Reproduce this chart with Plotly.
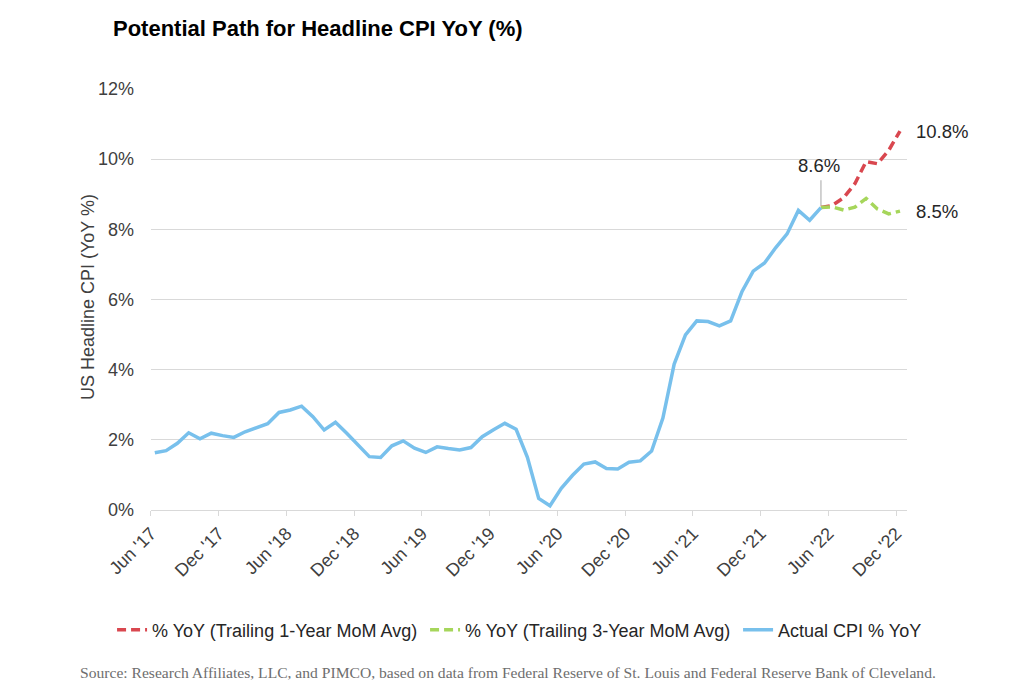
import plotly.graph_objects as go

# ---------------- data ----------------
tick_labels = ["Jun '17", "Dec '17", "Jun '18", "Dec '18", "Jun '19", "Dec '19",
               "Jun '20", "Dec '20", "Jun '21", "Dec '21", "Jun '22", "Dec '22"]

# Actual CPI % YoY, monthly Jun 2017 .. May 2022
actual_cpi = [1.63, 1.69, 1.90, 2.20, 2.03, 2.19, 2.12,
              2.07, 2.23, 2.35, 2.46, 2.78, 2.85, 2.96, 2.66, 2.28, 2.50, 2.19, 1.85,
              1.52, 1.50, 1.83, 1.97, 1.76, 1.64, 1.80, 1.75, 1.71, 1.78, 2.09, 2.29,
              2.47, 2.30, 1.50, 0.33, 0.12, 0.62, 0.99, 1.31, 1.37, 1.18, 1.17, 1.36,
              1.40, 1.68, 2.62, 4.16, 4.99, 5.39, 5.37, 5.25, 5.39, 6.22, 6.81, 7.04,
              7.48, 7.87, 8.54, 8.26, 8.62]

# Projections, May 2022 .. Dec 2022
proj_1yr = [8.62, 8.68, 8.90, 9.30, 9.93, 9.87, 10.25, 10.80]
proj_3yr = [8.62, 8.64, 8.55, 8.63, 8.88, 8.58, 8.44, 8.52]

names = ["% YoY (Trailing 1-Year MoM Avg)", "% YoY (Trailing 3-Year MoM Avg)", "Actual CPI % YoY"]
colors = ["#D9474F", "#A6D65B", "#78C0EC"]

x_actual = list(range(len(actual_cpi)))
start_proj = len(actual_cpi) - 1
x_proj = list(range(start_proj, start_proj + len(proj_1yr)))

TICK_OFFSET = -0.34
tick_pos = [i * 6 + TICK_OFFSET for i in range(len(tick_labels))]

FONT = "Liberation Sans, Arial, sans-serif"

fig = go.Figure()
fig.add_trace(go.Scatter(x=x_proj, y=proj_1yr, mode="lines", name=names[0], legendwidth=268,
                         line=dict(color=colors[0], width=3.5, dash="9px,5px")))
fig.add_trace(go.Scatter(x=x_proj, y=proj_3yr, mode="lines", name=names[1], legendwidth=268,
                         line=dict(color=colors[1], width=3.5, dash="9px,5px")))
fig.add_trace(go.Scatter(x=x_actual, y=actual_cpi, mode="lines", name=names[2],
                         line=dict(color=colors[2], width=3.5)))

# leader line for 8.6% label
fig.add_shape(type="line", x0=start_proj, x1=start_proj, y0=actual_cpi[-1] + 0.05, y1=9.4,
              line=dict(color="#A6A6A6", width=1), layer="below")

annos = [
    dict(x=start_proj - 0.2, y=9.81, text=f"{actual_cpi[-1]:.1f}%", showarrow=False,
         xanchor="center", yanchor="middle"),
    dict(x=x_proj[-1], y=proj_1yr[-1], text=f"{proj_1yr[-1]:.1f}%", showarrow=False,
         xanchor="left", yanchor="middle", xshift=14),
    dict(x=x_proj[-1], y=proj_3yr[-1], text=f"{proj_3yr[-1]:.1f}%", showarrow=False,
         xanchor="left", yanchor="middle", xshift=14),
]
for a in annos:
    a["font"] = dict(family=FONT, size=18.5, color="#262626")
    fig.add_annotation(**a)

# y-axis title
fig.add_annotation(xref="paper", yref="paper", x=-0.084, y=0.507, text="US Headline CPI (YoY %)",
                   textangle=-90, showarrow=False, xanchor="center", yanchor="middle",
                   font=dict(family=FONT, size=18, color="#404040"))

# source note
fig.add_annotation(xref="paper", yref="paper", x=-0.097, y=-0.385,
                   text="Source: Research Affiliates, LLC, and PIMCO, based on data from Federal Reserve of St. Louis and Federal Reserve Bank of Cleveland.",
                   showarrow=False, xanchor="left", yanchor="middle",
                   font=dict(family="Liberation Serif, Times New Roman, serif", size=15.6, color="#6E6E6E"))

fig.update_layout(
    width=1022, height=676,
    margin=dict(l=143, r=123, t=81, b=174),
    paper_bgcolor="white", plot_bgcolor="white",
    title=dict(text="<b>Potential Path for Headline CPI YoY (%)</b>", x=105 / 1022, xanchor="left",
               xref="container", y=1 - 20 / 676, yanchor="middle", yref="container",
               font=dict(family=FONT, size=22, color="#000000")),
    showlegend=True,
    legend=dict(orientation="h", x=-0.0515, xanchor="left", y=-0.285, yanchor="middle",
                font=dict(family=FONT, size=18, color="#262626"), traceorder="normal",
                bgcolor="rgba(0,0,0,0)"),
    xaxis=dict(range=[-0.337, 66.62], tickmode="array", tickvals=tick_pos, ticktext=tick_labels,
               tickangle=-45, showgrid=False, zeroline=False, showline=True, linecolor="#D9D9D9",
               linewidth=1, ticks="outside", ticklen=5, tickcolor="#D9D9D9",
               tickfont=dict(family=FONT, size=18, color="#404040")),
    yaxis=dict(range=[0, 12], tickmode="array", tickvals=[0, 2, 4, 6, 8, 10, 12],
               ticktext=["0%", "2%", "4%", "6%", "8%", "10%", "12%"],
               showgrid=True, gridcolor="#D9D9D9", gridwidth=1, zeroline=False, showline=False,
               ticks="", ticklabelstandoff=16,
               tickfont=dict(family=FONT, size=18, color="#404040")),
)

fig.write_html("out.html")
